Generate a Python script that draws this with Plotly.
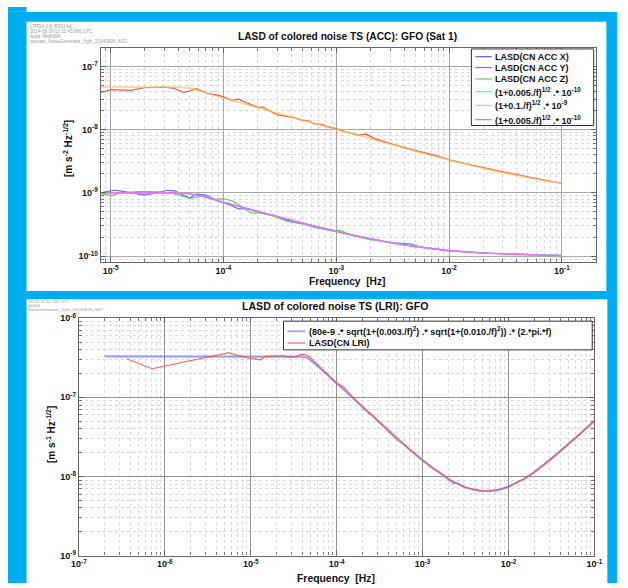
import plotly.graph_objects as go

W, H = 628, 588

# ---------------- data: top panel (ACC) ----------------
acc_x_freq = [8e-6, 8.93e-6, 1.09e-5, 1.33e-5, 1.98e-5, 2.59e-5, 3.16e-5, 3.73e-5, 4.4e-5, 5.03e-5,
              5.74e-5, 7.01e-5, 9.16e-5, 1.12e-4, 1.36e-4, 1.66e-4, 2.17e-4, 2.83e-4, 3.46e-4, 4.22e-4,
              5.5e-4, 7.18e-4, 1e-3, 1.39e-3, 1.94e-3, 3.09e-3, 4.61e-3, 5.1e-3, 6.02e-3, 1e-2,
              2.27e-2, 4.41e-2, 1e-1]
acc_x_val = [9.53e-10, 1.036e-9, 1.10e-9, 1.05e-9, 9.2e-10, 1.0e-9, 1.10e-9, 1.074e-9, 9.2e-10, 8.36e-10,
             9.53e-10, 9.2e-10, 7.33e-10, 6.59e-10, 5.57e-10, 5.57e-10, 4.77e-10, 4.34e-10, 3.85e-10, 3.42e-10,
             3.18e-10, 2.86e-10, 2.48e-10, 2.12e-10, 1.91e-10, 1.63e-10, 1.555e-10, 1.45e-10, 1.364e-10, 1.21e-10,
             1.11e-10, 1.06e-10, 1.024e-10]

acc_y_freq = [8e-6, 1.02e-5, 1.52e-5, 1.98e-5, 2.95e-5, 3.6e-5, 4.4e-5, 5.03e-5, 5.74e-5, 6.56e-5,
              7.49e-5, 8.56e-5, 1e-4, 1.19e-4, 1.36e-4, 1.66e-4, 2.03e-4, 2.25e-4, 2.48e-4, 3.03e-4,
              3.46e-4, 4.22e-4, 4.82e-4, 5.69e-4, 6.29e-4, 7.67e-4, 8.19e-4, 1e-3, 1.22e-3, 1.59e-3,
              1.82e-3, 2.22e-3, 3.09e-3, 4.31e-3, 6.02e-3, 7.85e-3, 1e-2, 1.63e-2, 3.17e-2, 6.15e-2, 1e-1]
acc_y_val = [3.85e-8, 4.29e-8, 4.19e-8, 4.60e-8, 4.72e-8, 4.55e-8, 3.90e-8, 4.09e-8, 4.45e-8, 4.04e-8,
             3.67e-8, 3.58e-8, 3.30e-8, 2.89e-8, 3.03e-8, 2.60e-8, 2.25e-8, 2.28e-8, 2.05e-8, 1.71e-8,
             1.65e-8, 1.55e-8, 1.43e-8, 1.38e-8, 1.24e-8, 1.20e-8, 1.13e-8, 1.04e-8, 9.2e-9, 8.16e-9,
             8.56e-9, 7.16e-9, 5.99e-9, 5.01e-9, 4.34e-9, 3.85e-9, 3.34e-9, 2.72e-9, 2.12e-9, 1.65e-9, 1.41e-9]

acc_z_freq = [8e-6, 1.02e-5, 1.25e-5, 1.85e-5, 2.59e-5, 3.6e-5, 5.03e-5, 6.56e-5, 8.0e-5, 1e-4,
              1.19e-4, 1.46e-4, 1.78e-4, 2.17e-4, 2.83e-4, 3.69e-4, 4.82e-4, 6.29e-4, 9.36e-4, 1.07e-3,
              1.39e-3, 1.94e-3, 2.71e-3, 4.61e-3, 6.02e-3, 1e-2, 2.27e-2, 1e-1]
acc_z_val = [9.76e-10, 9.09e-10, 1.0e-9, 1.06e-9, 1.036e-9, 9.76e-10, 8.17e-10, 8.88e-10, 7.88e-10, 8.07e-10,
             7.51e-10, 6.06e-10, 4.77e-10, 4.89e-10, 4.24e-10, 3.54e-10, 3.34e-10, 2.86e-10, 2.48e-10, 2.57e-10,
             2.12e-10, 1.84e-10, 1.69e-10, 1.50e-10, 1.38e-10, 1.21e-10, 1.11e-10, 1.024e-10]

fit_freq = [8e-6, 1e-5, 2e-5, 3e-5, 4e-5, 5e-5, 7e-5, 1e-4, 2e-4, 3e-4, 5e-4, 7e-4, 1e-3, 2e-3, 3e-3,
            5e-3, 7e-3, 1e-2, 2e-2, 3e-2, 5e-2, 7e-2, 1e-1]
fit_xz_val = [1.0e-9, 1.0e-9, 1.0e-9, 1.0e-9, 1.0e-9, 9.7e-10, 8.55e-10, 7.1e-10, 5.1e-10, 4.2e-10, 3.3e-10,
              2.85e-10, 2.45e-10, 1.87e-10, 1.63e-10, 1.41e-10, 1.31e-10, 1.22e-10, 1.12e-10, 1.08e-10,
              1.05e-10, 1.035e-10, 1.025e-10]
fit_y_val = [4.72e-8, 4.72e-8, 4.72e-8, 4.72e-8, 4.70e-8, 4.55e-8, 3.8e-8, 3.18e-8, 2.24e-8, 1.83e-8, 1.42e-8,
             1.2e-8, 1.0e-8, 7.1e-9, 5.9e-9, 4.6e-9, 3.9e-9, 3.3e-9, 2.45e-9, 2.08e-9, 1.73e-9, 1.56e-9, 1.42e-9]

acc_names = ["LASD(CN ACC X)", "LASD(CN ACC Y)", "LASD(CN ACC Z)",
             "(1+0.005./f)<sup>1/2</sup> .* 10<sup>-10</sup>",
             "(1+0.1./f)<sup>1/2</sup> .* 10<sup>-9</sup>",
             "(1+0.005./f)<sup>1/2</sup> .* 10<sup>-10</sup>"]

# ---------------- data: bottom panel (LRI) ----------------
lri_fit_freq = [2e-7, 1e-6, 1e-5, 3e-5, 4e-5, 4.6e-5, 5.5e-5, 7e-5, 1e-4, 2e-4, 3e-4, 5e-4, 7e-4, 1e-3,
                2e-3, 3e-3, 4e-3, 5e-3, 6e-3, 7e-3, 8e-3, 1e-2, 1.5e-2, 2e-2, 3e-2, 5e-2, 7e-2, 1e-1]
lri_fit_val = [3.29e-7, 3.29e-7, 3.29e-7, 3.29e-7, 3.27e-7, 3.18e-7, 2.72e-7, 2.15e-7, 1.51e-7, 7.6e-8,
               5.05e-8, 3.06e-8, 2.22e-8, 1.60e-8, 9.24e-9, 7.42e-9, 6.77e-9, 6.55e-9, 6.55e-9, 6.68e-9,
               6.87e-9, 7.42e-9, 9.24e-9, 1.136e-8, 1.597e-8, 2.567e-8, 3.558e-8, 5.05e-8]

lri_freq = [3.6e-7, 7.1e-7, 5.6e-6, 6.8e-6, 9.5e-6, 1.3e-5, 1.5e-5, 2.0e-5, 2.4e-5, 2.8e-5, 3.3e-5, 3.9e-5,
            4.4e-5, 4.8e-5, 5.6e-5, 7e-5, 1e-4, 1.2e-4, 1.4e-4, 1.6e-4, 2e-4, 2.6e-4, 3.3e-4, 4.3e-4,
            5.2e-4, 5.6e-4, 7e-4, 1e-3, 1.3e-3, 1.8e-3, 2.3e-3, 2.6e-3, 3.2e-3, 4e-3, 5e-3, 6e-3, 7.5e-3,
            1e-2, 1.5e-2, 2e-2, 3e-2, 5e-2, 7e-2, 1e-1]
lri_val = [3.07e-7, 2.30e-7, 3.67e-7, 3.42e-7, 3.12e-7, 2.98e-7, 3.30e-7, 3.36e-7, 3.38e-7, 3.20e-7, 3.25e-7,
           3.52e-7, 3.45e-7, 3.28e-7, 2.75e-7, 2.20e-7, 1.50e-7, 1.36e-7, 1.12e-7, 9.5e-8, 7.4e-8, 5.9e-8,
           4.55e-8, 3.5e-8, 2.8e-8, 2.75e-8, 2.2e-8, 1.62e-8, 1.28e-8, 1.02e-8, 8.2e-9, 8.2e-9, 7.25e-9,
           6.8e-9, 6.55e-9, 6.5e-9, 6.75e-9, 7.4e-9, 9.2e-9, 1.13e-8, 1.6e-8, 2.55e-8, 3.55e-8, 5.0e-8]

lri_names = ["(80e-9 .* sqrt(1+(0.003./f)<sup>2</sup>) .* sqrt(1+(0.010./f)<sup>2</sup>)) .* (2.*pi.*f)",
             "LASD(CN LRI)"]

# ticks
top_x_ticks = [1e-5, 1e-4, 1e-3, 1e-2, 1e-1]
top_x_text = ["10<sup>-5</sup>", "10<sup>-4</sup>", "10<sup>-3</sup>", "10<sup>-2</sup>", "10<sup>-1</sup>"]
top_y_ticks = [1e-10, 1e-9, 1e-8, 1e-7]
top_y_text = ["10<sup>-10</sup>", "10<sup>-9</sup>", "10<sup>-8</sup>", "10<sup>-7</sup>"]
bot_x_ticks = [1e-7, 1e-6, 1e-5, 1e-4, 1e-3, 1e-2, 1e-1]
bot_x_text = ["10<sup>-7</sup>", "10<sup>-6</sup>", "10<sup>-5</sup>", "10<sup>-4</sup>",
              "10<sup>-3</sup>", "10<sup>-2</sup>", "10<sup>-1</sup>"]
bot_y_ticks = [1e-9, 1e-8, 1e-7, 1e-6]
bot_y_text = ["10<sup>-9</sup>", "10<sup>-8</sup>", "10<sup>-7</sup>", "10<sup>-6</sup>"]

# ---------------- styling ----------------
FONT = "Liberation Sans, Arial, sans-serif"
BLUE_BG = "#00AEEF"
top_colors = ["#5a5aff", "#ff5050", "#55d855", "#5ee8e8", "#ffbf45", "#ff5cff"]
bot_colors = ["#8080ff", "#ff4d4d"]


def px(x):
    return x / W


def py(y):
    return 1 - y / H


def minor_vals(e0, e1):
    return [m * 10.0 ** e for e in range(e0, e1) for m in range(2, 10)]


def axis(tickvals, ticktext, minors, grid="#a8a8a8"):
    return dict(type="log", showline=True, linecolor="#666", linewidth=1.2, mirror="allticks",
                ticks="inside", ticklen=5, tickcolor="#666", tickwidth=1,
                tickmode="array", tickvals=tickvals, ticktext=ticktext,
                tickfont=dict(family=FONT, size=9, color="#111", weight="bold"),
                showgrid=True, gridcolor=grid, gridwidth=1, zeroline=False,
                minor=dict(tickmode="array", tickvals=minors, ticks="inside", ticklen=3,
                           tickcolor="#777", showgrid=True, gridcolor="#dadada",
                           griddash="dot", gridwidth=1))


fig = go.Figure()

# top panel traces
fig.add_trace(go.Scatter(x=acc_x_freq, y=acc_x_val, mode="lines", line=dict(color=top_colors[0], width=1.2),
                         opacity=0.9, name=acc_names[0], xaxis="x", yaxis="y"))
fig.add_trace(go.Scatter(x=acc_y_freq, y=acc_y_val, mode="lines", line=dict(color=top_colors[1], width=1.2),
                         name=acc_names[1], xaxis="x", yaxis="y"))
fig.add_trace(go.Scatter(x=acc_z_freq, y=acc_z_val, mode="lines", line=dict(color=top_colors[2], width=1.2),
                         name=acc_names[2], xaxis="x", yaxis="y"))
fig.add_trace(go.Scatter(x=fit_freq, y=fit_xz_val, mode="lines", line=dict(color=top_colors[3], width=1.2),
                         name=acc_names[3], xaxis="x", yaxis="y"))
fig.add_trace(go.Scatter(x=fit_freq, y=fit_y_val, mode="lines", line=dict(color=top_colors[4], width=1.5),
                         opacity=0.7, name=acc_names[4], xaxis="x", yaxis="y"))
fig.add_trace(go.Scatter(x=fit_freq, y=fit_xz_val, mode="lines", line=dict(color=top_colors[5], width=1.6),
                         opacity=0.85, name=acc_names[5], xaxis="x", yaxis="y"))

# bottom panel traces
fig.add_trace(go.Scatter(x=lri_fit_freq, y=lri_fit_val, mode="lines", line=dict(color=bot_colors[0], width=2.2),
                         opacity=0.75, name=lri_names[0], xaxis="x2", yaxis="y2"))
fig.add_trace(go.Scatter(x=lri_freq, y=lri_val, mode="lines", line=dict(color=bot_colors[1], width=1.2),
                         opacity=0.85, name=lri_names[1], xaxis="x2", yaxis="y2"))

shapes = [
    dict(type="rect", xref="paper", yref="paper", x0=0, x1=px(625), y0=0, y1=py(5),
         fillcolor=BLUE_BG, line=dict(width=0), layer="below"),
    dict(type="rect", xref="paper", yref="paper", x0=0, x1=px(19), y0=py(5), y1=1,
         fillcolor=BLUE_BG, line=dict(width=0), layer="below"),
    dict(type="rect", xref="paper", yref="paper", x0=px(19), x1=px(614), y0=py(290), y1=py(15),
         fillcolor="white", line=dict(width=0), layer="below"),
    dict(type="rect", xref="paper", yref="paper", x0=px(19), x1=px(615), y0=0, y1=py(298.3),
         fillcolor="white", line=dict(width=0), layer="below"),
    # legend boxes
    dict(type="rect", xref="paper", yref="paper", x0=px(475.5), x1=px(601), y0=py(121), y1=py(42.8),
         fillcolor="white", line=dict(color="#333", width=1), layer="above"),
    dict(type="rect", xref="paper", yref="paper", x0=px(282.7), x1=px(599.5), y0=py(350), y1=py(320.7),
         fillcolor="white", line=dict(color="#333", width=1), layer="above"),
]

annotations = []

top_rows = [50.7, 61.8, 73.5, 86.5, 100.5, 115]
for i, (nm, yy) in enumerate(zip(acc_names, top_rows)):
    shapes.append(dict(type="line", xref="paper", yref="paper", x0=px(479.5), x1=px(496.5),
                       y0=py(yy), y1=py(yy), line=dict(color=top_colors[i], width=1.2), layer="above"))
    annotations.append(dict(text="<b>" + nm + "</b>", x=px(498), y=py(yy), xref="paper", yref="paper",
                            xanchor="left", yanchor="middle", showarrow=False,
                            font=dict(family=FONT, size=9, color="#111")))

bot_rows = [331, 343]
for i, (nm, yy) in enumerate(zip(lri_names, bot_rows)):
    shapes.append(dict(type="line", xref="paper", yref="paper", x0=px(286.7), x1=px(305),
                       y0=py(yy), y1=py(yy), line=dict(color=bot_colors[i], width=1.8 if i == 0 else 1.2),
                       opacity=0.75 if i == 0 else 0.9, layer="above"))
    annotations.append(dict(text="<b>" + nm + "</b>", x=px(306.7), y=py(yy), xref="paper", yref="paper",
                            xanchor="left", yanchor="middle", showarrow=False,
                            font=dict(family=FONT, size=9, color="#111")))

# titles and axis labels
annotations += [
    dict(text="<b>LASD of colored noise TS (ACC): GFO (Sat 1)</b>", x=px(348), y=py(30.5),
         xref="paper", yref="paper", showarrow=False, xanchor="center", yanchor="middle",
         font=dict(family=FONT, size=10.2, color="#111")),
    dict(text="<b>LASD of colored noise TS (LRI): GFO</b>", x=px(336.5), y=py(305),
         xref="paper", yref="paper", showarrow=False, xanchor="center", yanchor="middle",
         font=dict(family=FONT, size=10.6, color="#111")),
    dict(text="<b>Frequency\u00a0\u00a0[Hz]</b>", x=px(348), y=py(280), xref="paper", yref="paper",
         showarrow=False, xanchor="center", yanchor="middle", font=dict(family=FONT, size=10.2, color="#111")),
    dict(text="<b>Frequency\u00a0\u00a0[Hz]</b>", x=px(337), y=py(583), xref="paper", yref="paper",
         showarrow=False, xanchor="center", yanchor="middle", font=dict(family=FONT, size=10.4, color="#111")),
    dict(text="<b>[m s<sup>-2</sup> Hz<sup>-1/2</sup>]</b>", x=px(61.5), y=py(144), xref="paper", yref="paper",
         showarrow=False, textangle=-90, xanchor="center", yanchor="middle",
         font=dict(family=FONT, size=10, color="#111")),
    dict(text="<b>[m s<sup>-1</sup> Hz<sup>-1/2</sup>]</b>", x=px(44), y=py(436), xref="paper", yref="paper",
         showarrow=False, textangle=-90, xanchor="center", yanchor="middle",
         font=dict(family=FONT, size=10, color="#111")),
]

# small grey stamp texts
stamp_top = ["LTPDA 2.8 (R2014a)", "2014-08-29 12:10:43.866 UTC", "ltpda: 94db624",
             "operate_NoiseGenerator_Vgfz_20140826_ACC"]
for t, yy in zip(stamp_top, [20, 25, 30, 35]):
    annotations.append(dict(text=t, x=px(22), y=py(yy), xref="paper", yref="paper", showarrow=False,
                            xanchor="left", yanchor="middle", borderpad=0,
                            font=dict(family=FONT, size=4.6, color="#9a9a9a")))
stamp_bot = ["29 12:11:54.780 UTC", "db624", "NoiseGenerator_Vgfz_20140826_SST"]
for t, yy in zip(stamp_bot, [300.3, 304.6, 308.9]):
    annotations.append(dict(text=t, x=px(19.5), y=py(yy), xref="paper", yref="paper", showarrow=False,
                            xanchor="left", yanchor="middle", borderpad=0,
                            font=dict(family=FONT, size=4.4, color="#9a9a9a")))

fig.update_layout(
    width=W, height=H, margin=dict(l=0, r=0, t=0, b=0),
    paper_bgcolor="white", plot_bgcolor="white", showlegend=False,
    font=dict(family=FONT, color="#111"),
    xaxis=dict(domain=[px(95), px(603.3)], range=[-5.089, -0.698], anchor="y",
               **axis(top_x_ticks, top_x_text, minor_vals(-6, 0))),
    yaxis=dict(domain=[py(260), py(41.7)], range=[-10.088, -6.706], anchor="x",
               **axis(top_y_ticks, top_y_text, minor_vals(-11, -6))),
    xaxis2=dict(domain=[px(72.7), px(601.7)], range=[-7, -1], anchor="y2",
                **axis(bot_x_ticks, bot_x_text, minor_vals(-7, -1), grid="#939393")),
    yaxis2=dict(domain=[py(560), py(317.7)], range=[-9, -6], anchor="x2",
                **axis(bot_y_ticks, bot_y_text, minor_vals(-9, -6), grid="#939393")),
    shapes=shapes, annotations=annotations,
)

fig.write_html("out.html")
